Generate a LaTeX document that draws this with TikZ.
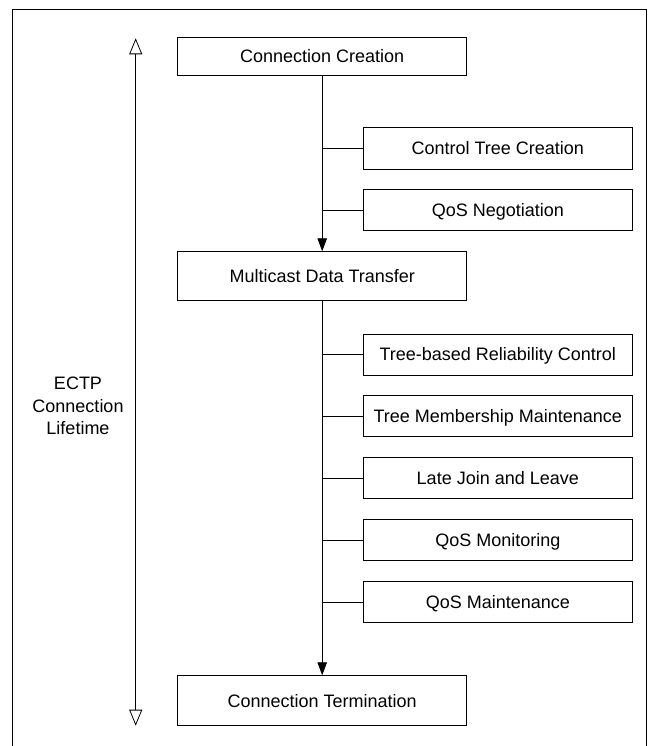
\documentclass[tikz,border=0pt]{standalone}
\usepackage{fontspec}
\setmainfont{Liberation Sans}
\usetikzlibrary{arrows.meta}
\tikzset{
  boxnode/.style={draw=black, line width=0.8pt, inner sep=0pt, minimum width=#1,
    text height=12.9pt, text depth=0pt, font=\fontsize{18}{21}\selectfont},
  subnode/.style={boxnode=269pt, minimum height=41pt},
  conn/.style={line width=0.8pt, draw=black},
  flow/.style={conn, -{Triangle[width=9.5pt,length=13pt]}},
  life/.style={conn, {Triangle[open,width=13pt,length=16pt]}-{Triangle[open,width=13pt,length=16pt]}},
  lbl/.style={anchor=base, inner sep=0pt, font=\fontsize{18}{21}\selectfont}
}
\begin{document}
\begin{tikzpicture}[x=1pt,y=-1pt]
\useasboundingbox (0,0) rectangle (648,746);
% frame
\draw[line width=0.8pt] (12,746) -- (12,9.3) -- (646.5,9.3) -- (646.5,746);
% main boxes
\node[boxnode=289pt, minimum height=37.7pt] (cc) at (322.2,56.2) {Connection Creation};
\node[boxnode=289pt, minimum height=48.6pt] (mdt) at (322.2,276) {Multicast Data Transfer};
\node[boxnode=289pt, minimum height=50pt] (ct) at (322.2,700.7) {Connection Termination};
% sub boxes
\node[subnode, minimum height=42pt] (ctc) at (497.8,148.3) {Control Tree Creation};
\node[subnode] (qn) at (497.8,210) {QoS Negotiation};
\node[subnode] (trc) at (497.8,354.5) {Tree-based Reliability Control};
\node[subnode] (tmm) at (497.8,416.2) {Tree Membership Maintenance};
\node[subnode] (ljl) at (497.8,478.3) {Late Join and Leave};
\node[subnode] (qmon) at (497.8,540) {QoS Monitoring};
\node[subnode] (qmai) at (497.8,602.2) {QoS Maintenance};
% flow arrows
\draw[flow] (cc.south) -- (mdt.north);
\draw[flow] (mdt.south) -- (ct.north);
% branches
\foreach \n in {ctc,qn} \draw[conn] (\n.west) -- (\n.west -| cc.south);
\foreach \n in {trc,tmm,ljl,qmon,qmai} \draw[conn] (\n.west) -- (\n.west -| mdt.south);
% lifetime arrow
\coordinate (ltop) at (135.7,38.3);
\coordinate (lbot) at (135.7,725.7);
\draw[life] (ltop) -- (lbot);
\node[lbl] (l1) at (78,389.3) {ECTP};
\node[lbl] (l2) at (78,412.3) {Connection};
\node[lbl] (l3) at (78,434.3) {Lifetime};
\end{tikzpicture}
\end{document}
